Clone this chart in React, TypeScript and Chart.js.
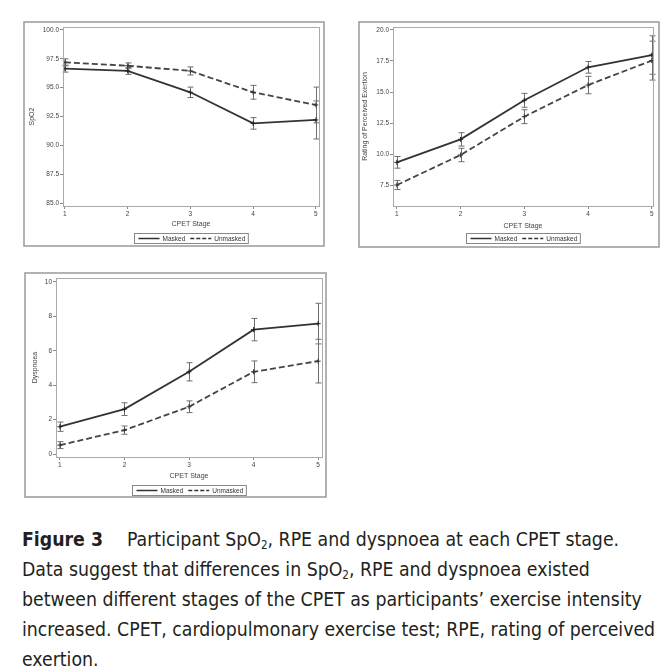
import { useEffect, useRef } from 'react'
import Chart from 'chart.js/auto'

const stages = [1, 2, 3, 4, 5]
const seriesLabels = ['Masked', 'Unmasked']

const spo2Masked = [96.65, 96.45, 94.6, 91.9, 92.2]
const spo2MaskedErr = [0.3, 0.3, 0.45, 0.5, 1.65]
const spo2Unmasked = [97.2, 96.9, 96.45, 94.6, 93.5]
const spo2UnmaskedErr = [0.3, 0.25, 0.35, 0.6, 1.55]
const spo2Ticks = [85, 87.5, 90, 92.5, 95, 97.5, 100]

const rpeMasked = [9.33, 11.18, 14.33, 16.99, 17.98]
const rpeMaskedErr = [0.47, 0.54, 0.56, 0.47, 1.55]
const rpeUnmasked = [7.5, 9.92, 13.01, 15.56, 17.53]
const rpeUnmaskedErr = [0.36, 0.54, 0.56, 0.7, 1.57]
const rpeTicks = [7.5, 10, 12.5, 15, 17.5, 20]

const dysMasked = [1.59, 2.61, 4.78, 7.23, 7.58]
const dysMaskedErr = [0.27, 0.37, 0.53, 0.65, 1.18]
const dysUnmasked = [0.52, 1.39, 2.75, 4.78, 5.4]
const dysUnmaskedErr = [0.2, 0.24, 0.34, 0.63, 1.27]
const dysTicks = [0, 2, 4, 6, 8, 10]

const FONT = '"Liberation Sans", Arial, sans-serif'

interface PanelProps {
  left: number
  top: number
  width: number
  height: number
  padTop: number
  padRight: number
  yWidth: number
  xHeight: number
  xRange: [number, number]
  yRange: [number, number]
  yTicks: number[]
  decimals: number
  yTitle: string
  yTitlePad: number
  xTitlePad: number
  legendTop: number
  masked: number[]
  maskedErr: number[]
  unmasked: number[]
  unmaskedErr: number[]
}

// error bars, plot box, outer frame and the boxed legend
const decorPlugin = {
  id: 'decor',
  beforeDraw(chart: any) {
    const { ctx, width, height } = chart
    ctx.save()
    ctx.fillStyle = '#fff'
    ctx.fillRect(0, 0, width, height)
    ctx.restore()
  },
  beforeDatasetsDraw(chart: any) {
    const { ctx } = chart
    const yScale = chart.scales.y
    ctx.save()
    ctx.strokeStyle = '#6e6e6e'
    ctx.lineWidth = 1
    chart.data.datasets.forEach((ds: any, di: number) => {
      const meta = chart.getDatasetMeta(di)
      ds.data.forEach((pt: any, i: number) => {
        const e = ds.errors[i]
        const x = Math.round(meta.data[i].x) + 0.5
        const y1 = yScale.getPixelForValue(pt.y - e)
        const y2 = yScale.getPixelForValue(pt.y + e)
        ctx.beginPath()
        ctx.moveTo(x, y1)
        ctx.lineTo(x, y2)
        ctx.moveTo(x - 3, y1)
        ctx.lineTo(x + 3, y1)
        ctx.moveTo(x - 3, y2)
        ctx.lineTo(x + 3, y2)
        ctx.stroke()
      })
    })
    ctx.restore()
  },
  afterDraw(chart: any) {
    const { ctx, chartArea, width, height } = chart
    const legendTop = chart.options.plugins.decor.legendTop
    ctx.save()
    // plot box
    ctx.strokeStyle = '#aaa'
    ctx.lineWidth = 1
    ctx.strokeRect(chartArea.left + 0.5, chartArea.top + 0.5, chartArea.right - chartArea.left, chartArea.bottom - chartArea.top)
    // outer frame
    ctx.strokeStyle = '#999'
    ctx.lineWidth = 1.5
    ctx.strokeRect(1, 1, width - 2, height - 2)

    // legend
    ctx.font = `6.5px ${FONT}`
    const sample = 21
    const items = chart.data.datasets.map((ds: any) => ({
      label: ds.label,
      dash: ds.borderDash || [],
      w: ctx.measureText(ds.label).width,
    }))
    const total = items.reduce((s: number, it: any) => s + 3 + sample + 3 + it.w + 2, 0) + 2
    const boxH = 10
    let x = Math.round((chartArea.left + chartArea.right) / 2 - total / 2) + 0.5
    const y = legendTop + 0.5
    ctx.strokeStyle = '#888'
    ctx.lineWidth = 1
    ctx.strokeRect(x, y, total, boxH)
    x += 1
    ctx.textBaseline = 'middle'
    ctx.fillStyle = '#333'
    items.forEach((it: any) => {
      ctx.beginPath()
      ctx.setLineDash(it.dash.length ? [4, 2] : [])
      ctx.strokeStyle = '#333'
      ctx.lineWidth = 1.5
      ctx.moveTo(x + 3, y + boxH / 2)
      ctx.lineTo(x + 3 + sample, y + boxH / 2)
      ctx.stroke()
      ctx.setLineDash([])
      ctx.fillText(it.label, x + 3 + sample + 3, y + boxH / 2 + 0.5)
      x += 3 + sample + 3 + it.w + 2
    })
    ctx.restore()
  },
}

function Panel(p: PanelProps) {
  const chartRef = useRef<HTMLCanvasElement>(null)
  const chartInstance = useRef<Chart | null>(null)

  useEffect(() => {
    if (!chartRef.current) return
    if (chartInstance.current) chartInstance.current.destroy()
    const ctx = chartRef.current.getContext('2d')
    if (!ctx) return

    const tickFont = { size: 6.5, family: FONT }
    const titleFont = { size: 7, family: FONT }

    const toPoints = (vals: number[]) => vals.map((v, i) => ({ x: stages[i], y: v }))

    chartInstance.current = new Chart(ctx, {
      type: 'line',
      data: {
        datasets: [
          {
            label: seriesLabels[0],
            data: toPoints(p.masked) as any,
            errors: p.maskedErr,
            borderColor: '#333',
            borderWidth: 1.8,
            pointStyle: 'cross',
            pointRadius: 2.5,
            pointBorderColor: '#222',
            pointBorderWidth: 1,
            fill: false,
          } as any,
          {
            label: seriesLabels[1],
            data: toPoints(p.unmasked) as any,
            errors: p.unmaskedErr,
            borderColor: '#444',
            borderWidth: 1.8,
            borderDash: [6, 3],
            pointStyle: 'cross',
            pointRadius: 2.5,
            pointBorderColor: '#333',
            pointBorderWidth: 1,
            fill: false,
          } as any,
        ],
      },
      options: {
        animation: false,
        responsive: false,
        devicePixelRatio: 1,
        layout: { padding: { top: p.padTop, right: p.padRight, left: 0, bottom: 0 } },
        scales: {
          x: {
            type: 'linear',
            min: p.xRange[0],
            max: p.xRange[1],
            afterBuildTicks: (s: any) => {
              s.ticks = stages.map((v) => ({ value: v }))
            },
            afterFit: (s: any) => {
              s.height = p.xHeight
            },
            ticks: {
              font: tickFont,
              color: '#444',
              padding: 1,
              maxRotation: 0,
              callback: (v: any) => String(v),
            },
            grid: { display: true, drawOnChartArea: false, drawTicks: true, tickLength: 3, color: '#888' },
            border: { display: true, color: '#aaa' },
            title: {
              display: true,
              text: 'CPET Stage',
              font: titleFont,
              color: '#444',
              padding: { top: 0, bottom: p.xTitlePad },
            },
          },
          y: {
            type: 'linear',
            min: p.yRange[0],
            max: p.yRange[1],
            afterBuildTicks: (s: any) => {
              s.ticks = p.yTicks.map((v) => ({ value: v }))
            },
            afterFit: (s: any) => {
              s.width = p.yWidth
            },
            ticks: {
              font: tickFont,
              color: '#444',
              padding: 1,
              callback: (v: any) => Number(v).toFixed(p.decimals),
            },
            grid: { display: true, drawOnChartArea: false, drawTicks: true, tickLength: 3, color: '#888' },
            border: { display: true, color: '#aaa' },
            title: {
              display: true,
              text: p.yTitle,
              font: titleFont,
              color: '#444',
              padding: { top: p.yTitlePad, bottom: 0 },
            },
          },
        },
        plugins: {
          legend: { display: false },
          tooltip: { enabled: false },
          decor: { legendTop: p.legendTop },
        } as any,
      },
      plugins: [decorPlugin],
    })

    return () => {
      if (chartInstance.current) {
        chartInstance.current.destroy()
        chartInstance.current = null
      }
    }
  }, [])

  return (
    <canvas
      ref={chartRef}
      width={p.width}
      height={p.height}
      style={{ position: 'absolute', left: p.left, top: p.top, width: p.width, height: p.height }}
    />
  )
}

const subStyle = { fontSize: '0.6em', verticalAlign: '-0.3em', lineHeight: 0 }

export default function App() {
  return (
    <div style={{ position: 'absolute', left: 0, top: 0, width: 668, height: 666, background: '#fff', overflow: 'hidden' }}>
      <Panel
        left={23} top={21} width={302} height={226}
        padTop={6} padRight={6} yWidth={40} xHeight={41}
        xRange={[0.97, 5.05]} yRange={[84.74, 100.26]} yTicks={spo2Ticks} decimals={1}
        yTitle="SpO2" yTitlePad={5} xTitlePad={18.8} legendTop={212}
        masked={spo2Masked} maskedErr={spo2MaskedErr} unmasked={spo2Unmasked} unmaskedErr={spo2UnmaskedErr}
      />
      <Panel
        left={358} top={21} width={302} height={227}
        padTop={6} padRight={7} yWidth={35} xHeight={42}
        xRange={[0.94, 5.02]} yRange={[5.81, 20.24]} yTicks={rpeTicks} decimals={1}
        yTitle="Rating of Perceived Exertion" yTitlePad={3} xTitlePad={17.8} legendTop={212}
        masked={rpeMasked} maskedErr={rpeMaskedErr} unmasked={rpeUnmasked} unmaskedErr={rpeUnmaskedErr}
      />
      <Panel
        left={24} top={272} width={303} height={226}
        padTop={6} padRight={5} yWidth={32} xHeight={41}
        xRange={[0.94, 5.06]} yRange={[-0.17, 10.23]} yTicks={dysTicks} decimals={0}
        yTitle="Dyspnoea" yTitlePad={7} xTitlePad={17.8} legendTop={213}
        masked={dysMasked} maskedErr={dysMaskedErr} unmasked={dysUnmasked} unmaskedErr={dysUnmaskedErr}
      />
      <div
        style={{
          position: 'absolute',
          left: 22,
          top: 525,
          fontFamily: '"Liberation Sans Narrow", "DejaVu Sans Condensed", "Open Sans", sans-serif',
          fontSize: 19.3,
          lineHeight: '30px',
          color: '#231f20',
          whiteSpace: 'nowrap',
        }}
      >
        <div>
          <b>Figure 3</b>
          <span style={{ marginLeft: 24 }}>
            Participant SpO<sub style={subStyle}>2</sub>, RPE and dyspnoea at each CPET stage.
          </span>
        </div>
        <div>
          Data suggest that differences in SpO<sub style={subStyle}>2</sub>, RPE and dyspnoea existed
        </div>
        <div>between different stages of the CPET as participants’ exercise intensity</div>
        <div>increased. CPET, cardiopulmonary exercise test; RPE, rating of perceived</div>
        <div>exertion.</div>
      </div>
    </div>
  )
}
